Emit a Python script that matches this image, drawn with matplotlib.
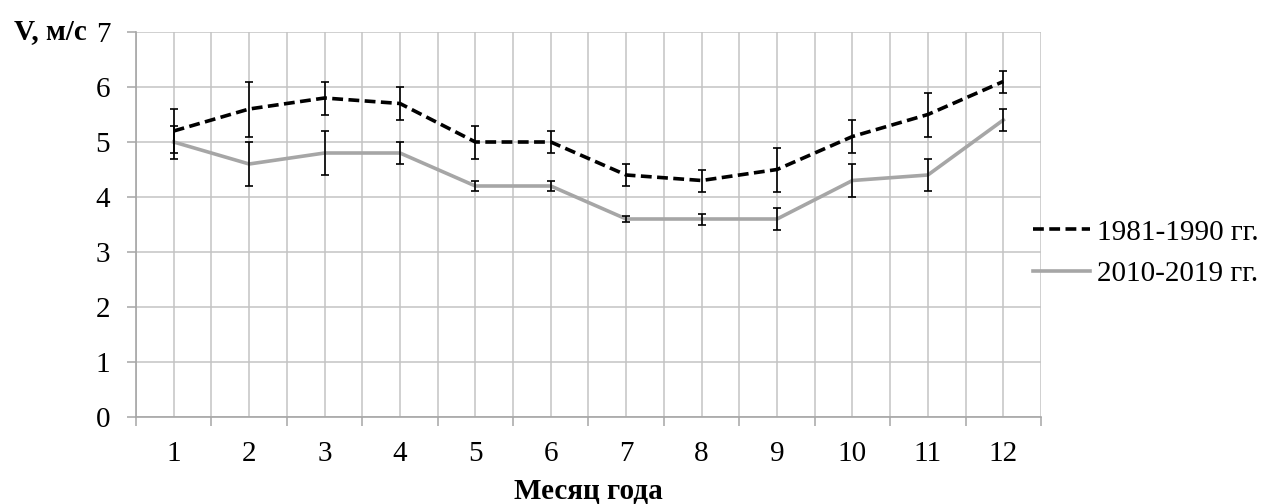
import matplotlib
matplotlib.use("Agg")
import matplotlib.pyplot as plt
import numpy as np

months = [1, 2, 3, 4, 5, 6, 7, 8, 9, 10, 11, 12]
tick_labels = ["1", "2", "3", "4", "5", "6", "7", "8", "9", "10", "11", "12"]
v_1981 = [5.2, 5.6, 5.8, 5.7, 5.0, 5.0, 4.4, 4.3, 4.5, 5.1, 5.5, 6.1]
err_1981 = [0.4, 0.5, 0.3, 0.3, 0.3, 0.2, 0.2, 0.2, 0.4, 0.3, 0.4, 0.2]
v_2010 = [5.0, 4.6, 4.8, 4.8, 4.2, 4.2, 3.6, 3.6, 3.6, 4.3, 4.4, 5.4]
err_2010 = [0.3, 0.4, 0.4, 0.2, 0.1, 0.1, 0.05, 0.1, 0.2, 0.3, 0.3, 0.2]
label_1981 = "1981-1990 гг."
label_2010 = "2010-2019 гг."

plt.rcParams['font.family'] = ['Liberation Serif', 'DejaVu Serif']
FS = 21

fig = plt.figure(figsize=(12.61, 5.04), dpi=100)
ax = fig.add_axes([136/1261, 1-417/504, (1041-136)/1261, (417-32)/504])

grid_c = '#c3c3c3'
spine_c = '#a6a6a6'

l1, = ax.plot(months, v_1981, color='black', lw=2.6, linestyle=(0, (3, 1.5)), zorder=3,
              label=label_1981)
ax.errorbar(months, v_1981, yerr=err_1981, fmt='none', ecolor='black', elinewidth=1.2,
            capsize=3.2, capthick=1.2, zorder=4)
l2, = ax.plot(months, v_2010, color='#a6a6a6', lw=2.6, zorder=3, label=label_2010)
ax.errorbar(months, v_2010, yerr=err_2010, fmt='none', ecolor='black', elinewidth=1.2,
            capsize=3.2, capthick=1.2, zorder=4)

ax.set_xlim(0.5, 12.5)
ax.set_ylim(0, 7)
edges = np.arange(0.5, 13.0, 1.0)
ax.set_xticks(edges)
ax.set_xticklabels([])
ax.set_xticks(months, minor=True)
ax.set_xticklabels(tick_labels, minor=True)
ax.tick_params(axis='x', which='major', length=6.5, width=1.1, color=spine_c, direction='out')
ax.tick_params(axis='x', which='minor', length=0, pad=17, labelsize=FS)
ax.set_yticks(range(0, 8))
ax.tick_params(axis='y', length=6.5, width=1.1, color=spine_c, pad=12, labelsize=FS)

ax.grid(True, which='major', axis='both', color=grid_c, lw=1.1, zorder=0)
ax.grid(True, which='minor', axis='x', color=grid_c, lw=1.1, zorder=0)
ax.set_axisbelow(True)

for s in ['top', 'right']:
    ax.spines[s].set_visible(False)
for s in ['left', 'bottom']:
    ax.spines[s].set_color(spine_c)
    ax.spines[s].set_linewidth(1.2)

fig.text(14/1261, 1-32/504, "V, м/с", fontsize=FS, fontweight='bold', ha='left', va='center')
fig.text(588/1261, 1-492/504, "Месяц года", fontsize=FS, fontweight='bold', ha='center', va='center')

leg = fig.legend(handles=[l1, l2], loc='center left', bbox_to_anchor=(1033/1261, 1-253/504),
                 frameon=False, fontsize=FS, borderpad=0, borderaxespad=0,
                 handlelength=1.95, handletextpad=0.25, labelspacing=0.5)

fig.savefig("out.png", dpi=100, facecolor='white')
